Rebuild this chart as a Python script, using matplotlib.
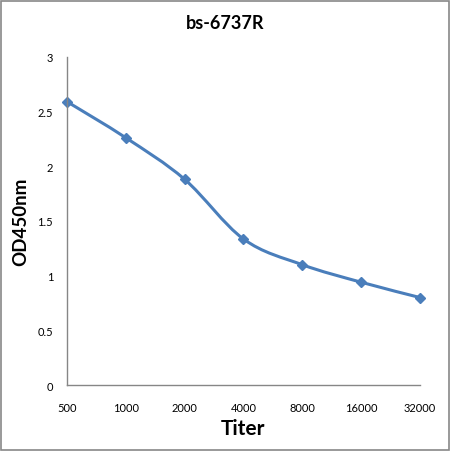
import matplotlib
matplotlib.use("Agg")
import matplotlib.pyplot as plt
from matplotlib.path import Path
from matplotlib.patches import PathPatch, Rectangle
import numpy as np

plt.rcParams['font.family'] = ['Lato', 'DejaVu Sans']

titers = ['500', '1000', '2000', '4000', '8000', '16000', '32000']
od450 = [2.59, 2.26, 1.88, 1.335, 1.10, 0.94, 0.80]
y_ticks = [0, 0.5, 1, 1.5, 2, 2.5, 3]
y_tick_labels = ['0', '0.5', '1', '1.5', '2', '2.5', '3']

line_color = '#4A7EBB'

fig = plt.figure(figsize=(4.5, 4.52), dpi=100)
ax = fig.add_axes([0.149, 0.146, 0.784, 0.726])

# Excel-style smoothed line (cubic Bezier through the points)
x = np.arange(len(titers), dtype=float)
y = np.array(od450)
pts = np.column_stack([x, y])
verts = [pts[0]]
codes = [Path.MOVETO]
n = len(pts)
for i in range(n - 1):
    p_prev = pts[i - 1] if i > 0 else pts[i]
    p_next2 = pts[i + 2] if i + 2 < n else pts[i + 1]
    c1 = pts[i] + (pts[i + 1] - p_prev) / 6.0
    c2 = pts[i + 1] - (p_next2 - pts[i]) / 6.0
    verts += [c1, c2, pts[i + 1]]
    codes += [Path.CURVE4] * 3
ax.add_patch(PathPatch(Path(verts, codes), fill=False, edgecolor=line_color,
                       lw=2.2, capstyle='round', joinstyle='round'))
ax.plot(x, y, linestyle='none', marker='D', markersize=5.5,
        color=line_color, clip_on=False)

ax.set_xlim(0, len(titers) - 1)
ax.set_ylim(0, 3)
ax.set_xticks(x)
ax.set_xticklabels(titers)
ax.set_yticks(y_ticks)
ax.set_yticklabels(y_tick_labels)
ax.tick_params(axis='both', length=0, labelsize=8)
ax.tick_params(axis='y', pad=10)
ax.tick_params(axis='x', pad=12)

for s in ['top', 'right']:
    ax.spines[s].set_visible(False)
for s in ['left', 'bottom']:
    ax.spines[s].set_color('#868686')
    ax.spines[s].set_linewidth(1)

ax.set_xlabel('Titer', fontsize=15, fontweight='bold', labelpad=4)
fig.text(0.047, 0.509, 'OD450nm', rotation=90, ha='center', va='center',
         fontsize=13.5, fontweight='bold')
fig.text(0.5, 0.947, 'bs-6737R', ha='center', va='center',
         fontsize=13, fontweight='bold')

fig.patches.append(Rectangle((0.002, 0.002), 0.996, 0.994, transform=fig.transFigure,
                             fill=False, edgecolor='#888888', lw=1.2))

fig.savefig('out.png', dpi=100)
